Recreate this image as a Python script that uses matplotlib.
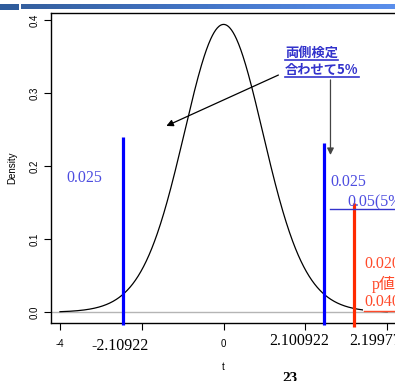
import math
import numpy as np
import matplotlib
matplotlib.use("Agg")
import matplotlib.pyplot as plt
from matplotlib.lines import Line2D
from matplotlib.colors import LinearSegmentedColormap

# ---- data ----
df_t = 20                       # degrees of freedom of the t density
t_range = (-4, 4)
left_line_x = -2.449            # drawn positions of the slide's marker lines
right_line_x = 2.449
red_line_x = 3.177
left_line_top = 0.240
right_line_top = 0.232
red_line_top = 0.150
yticks = [0.0, 0.1, 0.2, 0.3, 0.4]
ytick_labels = ["0.0", "0.1", "0.2", "0.3", "0.4"]
xticks = [-4, -2, 0, 2, 4]
xtick_labels = ["-4", "", "0", "", ""]
crit_labels = ["-2.10922", "2.100922", "2.19977"]
tail_label = "0.025"
title_lines = ["両側検定", "合わせて5%"]

W, H, DPI = 395, 381, 100
fig = plt.figure(figsize=(W / DPI, H / DPI), dpi=DPI)
fig.patch.set_facecolor("white")

def px(x, y):
    """figure-pixel (top-left origin) to figure fraction"""
    return x / W, 1 - y / H

# top slide bar
bar = fig.add_axes([21 / W, 1 - 9.5 / H, 1 - 21 / W, 5.5 / H])
cmap = LinearSegmentedColormap.from_list("g", ["#35609f", "#4476c8", "#5b8fec"])
bar.imshow(np.linspace(0, 1, 256)[None, :], aspect="auto", cmap=cmap)
bar.axis("off")
bar2 = fig.add_axes([0, 1 - 9.5 / H, 19 / W, 5.5 / H])
bar2.set_facecolor("#2f5c9c")
bar2.set_xticks([]); bar2.set_yticks([])
for s in bar2.spines.values():
    s.set_visible(False)

ax = fig.add_axes([50.7 / W, 1 - 322.7 / H, (396.5 - 50.7) / W, (322.7 - 13) / H])
ax.set_xlim(-4.227, 4.227)
ax.set_ylim(-0.01423, 0.4096)

# t density
x = np.linspace(t_range[0], t_range[1], 600)
c = math.gamma((df_t + 1) / 2) / (math.sqrt(df_t * math.pi) * math.gamma(df_t / 2))
dens = c * (1 + x ** 2 / df_t) ** (-(df_t + 1) / 2)
ax.plot(x, dens, color="black", lw=0.9, zorder=3)
ax.axhline(0, color="#b5b5b5", lw=1.0, zorder=2)

ax.set_xticks(xticks)
ax.set_xticklabels(xtick_labels, fontsize=7, family="Liberation Sans")
ax.set_yticks(yticks)
ax.set_yticklabels(ytick_labels, fontsize=7, family="Liberation Sans",
                   rotation=90, va="center")
ax.tick_params(axis="x", length=5, width=0.8, pad=7)
ax.tick_params(axis="y", length=5, width=0.8, pad=3)
for s in ax.spines.values():
    s.set_linewidth(1.0)
ax.set_ylabel("Density", fontsize=7, family="Liberation Sans", labelpad=9)
ax.set_xlabel("t", fontsize=7, family="Liberation Sans", labelpad=9)

# vertical marker lines
ax.plot([left_line_x, left_line_x], [-0.018, left_line_top], color="#0000ff",
        lw=2.3, clip_on=False, zorder=5, solid_capstyle="butt")
ax.plot([right_line_x, right_line_x], [-0.018, right_line_top], color="#0000ff",
        lw=2.3, clip_on=False, zorder=5, solid_capstyle="butt")
ax.plot([red_line_x, red_line_x], [-0.02, red_line_top], color="#ff2a00",
        lw=2.3, clip_on=False, zorder=6, solid_capstyle="butt")

serif = "Liberation Serif"
blue_txt = "#4d4de0"
red_txt = "#ff4a2a"

# blue texts
fig.text(*px(66, 178), tail_label, fontsize=11.5, family=serif, color=blue_txt,
         va="center", ha="left")
fig.text(*px(330, 182), tail_label, fontsize=11.5, family=serif, color=blue_txt,
         va="center", ha="left", zorder=7)
fig.text(*px(347, 202), "0.05(5%)", fontsize=11.5, family=serif, color=blue_txt,
         va="center", ha="left", zorder=7)
fig.add_artist(Line2D([330 / W, 1], [1 - 209 / H] * 2, color="#3333cc", lw=1.0))

# red texts
fig.text(*px(364, 264), "0.0203", fontsize=11.5, family=serif, color=red_txt,
         va="center", ha="left", zorder=7,
         bbox=dict(facecolor="white", edgecolor="none", pad=0.5))
fig.text(*px(372, 284), "p値", fontsize=11.5, family=[serif, "Noto Sans CJK JP"],
         color=red_txt, va="center", ha="left", zorder=7,
         bbox=dict(facecolor="white", edgecolor="none", pad=0.5))
fig.text(*px(364, 302), "0.0406", fontsize=11.5, family=serif, color=red_txt,
         va="center", ha="left", zorder=7,
         bbox=dict(facecolor="white", edgecolor="none", pad=0.5))
fig.add_artist(Line2D([364 / W, 1], [1 - 311 / H] * 2, color=red_txt, lw=1.0, zorder=8))

# critical value labels below axis
fig.text(*px(120, 346), crit_labels[0], fontsize=11.5, family=serif, color="black",
         va="center", ha="center",
         bbox=dict(facecolor="white", edgecolor="none", pad=1))
fig.text(*px(299, 341), crit_labels[1], fontsize=11.5, family=serif, color="black",
         va="center", ha="center",
         bbox=dict(facecolor="white", edgecolor="none", pad=1))
fig.text(*px(349, 341), crit_labels[2], fontsize=11.5, family=serif, color="black",
         va="center", ha="left",
         bbox=dict(facecolor="white", edgecolor="none", pad=1))

# page number
fig.text(*px(290, 372), "23", fontsize=11, family=serif, weight="bold",
         va="top", ha="center")

# Japanese annotation
jp_col = "#3333cc"
jt1 = fig.text(*px(285, 53), title_lines[0], fontsize=9.5,
               family=["Noto Sans CJK JP", "DejaVu Sans"], weight="bold",
               color=jp_col, va="center", ha="left")
jt2 = fig.text(*px(285, 70), title_lines[1], fontsize=9.5,
               family=["Noto Sans CJK JP", "DejaVu Sans"], weight="bold",
               color=jp_col, va="center", ha="left")

# arrows
ax.annotate("", xy=(-1.40, 0.255), xytext=(1.34, 0.3247),
            arrowprops=dict(arrowstyle="-|>", color="black", lw=0.9,
                            mutation_scale=10, shrinkA=0, shrinkB=0))
ax.annotate("", xy=(2.613, 0.2153), xytext=(2.613, 0.318),
            arrowprops=dict(arrowstyle="-|>", color="#444444", lw=0.9,
                            mutation_scale=10, shrinkA=0, shrinkB=0))

# underlines for Japanese text
fig.canvas.draw()
r = fig.canvas.get_renderer()
for t in (jt1, jt2):
    bb = t.get_window_extent(r)
    y = bb.y0 + 0.5
    fig.add_artist(Line2D([bb.x0 / W, bb.x1 / W], [y / H, y / H],
                          color=jp_col, lw=1.2))

fig.savefig("out.png", dpi=DPI)
